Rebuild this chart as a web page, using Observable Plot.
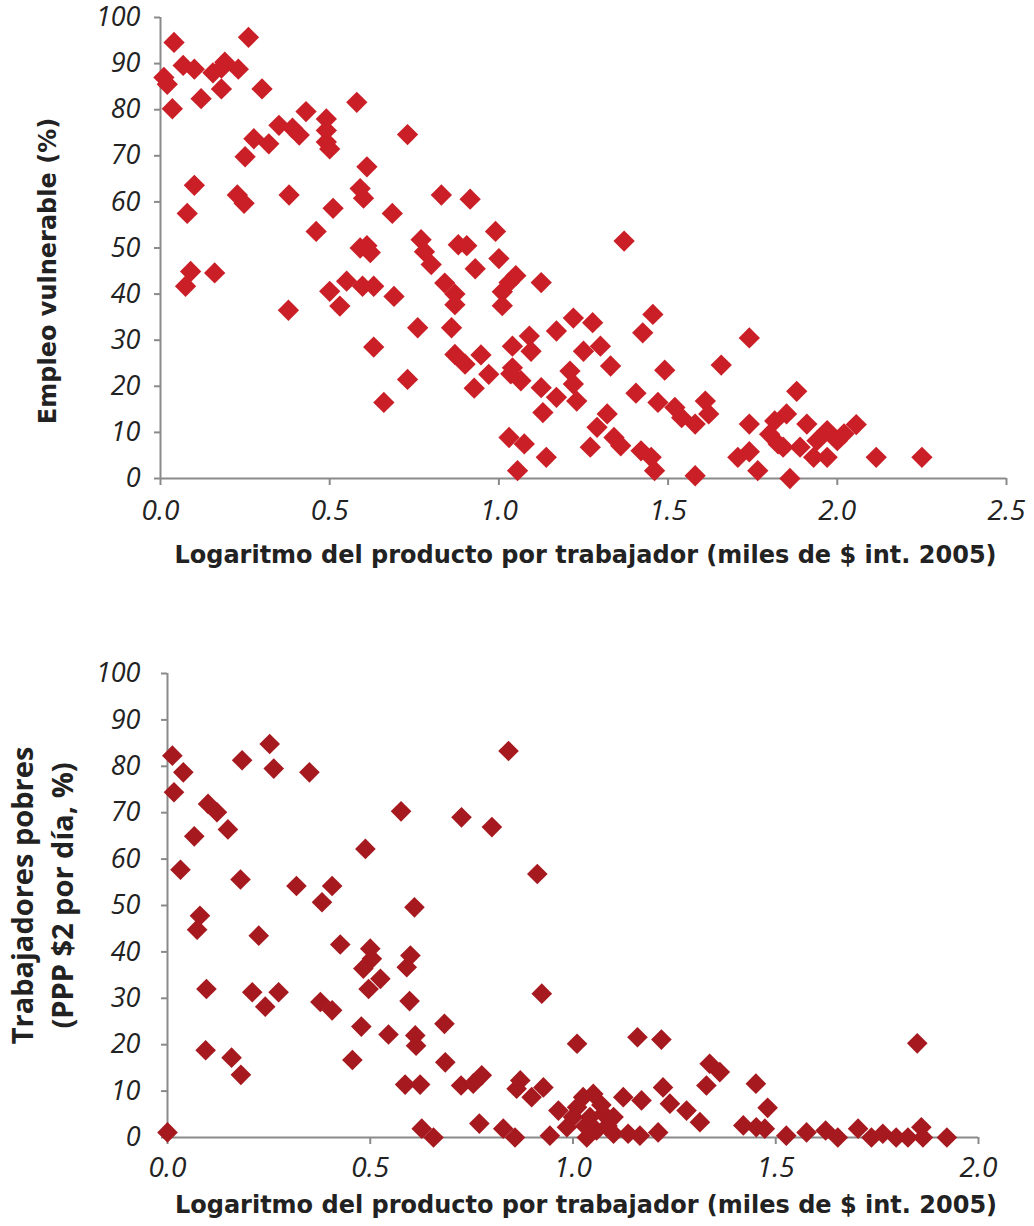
<!DOCTYPE html>
<html><head><meta charset="utf-8">
<script src="https://cdn.jsdelivr.net/npm/d3@7"></script>
<script src="https://cdn.jsdelivr.net/npm/@observablehq/plot@0.6"></script>
<style>
body{margin:0;background:#fff;}
#chart{width:1034px;height:1226px;}
#chart svg{display:block;overflow:visible;}
</style></head><body><div id="chart"></div>
<script>
// ---- Top panel: vulnerable employment vs log output per worker
const topX = [0.04,0.26,0.067,0.10,0.155,0.18,0.19,0.23,0.18,0.01,0.02,0.12,0.035,0.30,0.58,0.43,0.35,0.39,0.41,0.49,0.49,0.49,0.50,0.276,0.32,0.73,0.25,0.61,0.10,0.227,0.247,0.38,0.59,0.60,0.83,0.079,0.51,0.685,0.46,0.59,0.61,0.62,0.77,0.78,0.80,0.88,0.089,0.074,0.16,0.378,0.50,0.53,0.55,0.597,0.63,0.69,0.76,0.84,0.86,0.87,0.90,0.87,0.87,0.63,0.73,0.66,0.915,0.99,0.905,1.0,0.93,1.37,1.05,1.03,1.01,1.01,1.125,0.947,0.97,0.927,1.17,1.22,1.277,1.09,1.04,1.095,1.04,1.065,1.035,1.125,1.25,1.30,1.33,1.21,1.22,1.23,1.17,1.13,1.455,1.425,1.74,1.657,1.49,1.405,1.47,1.52,1.54,1.61,1.62,1.58,1.74,1.32,1.29,1.34,1.27,1.36,1.03,1.075,1.14,1.055,1.42,1.45,1.46,1.58,1.706,1.74,1.765,1.88,1.85,1.815,1.80,1.91,1.97,1.94,2.0,1.89,1.93,1.97,2.02,1.84,1.825,2.056,1.86,2.115,2.25];
const topY = [94.6,95.7,89.6,88.8,88.0,89.0,90.3,88.8,84.5,87.0,85.5,82.4,80.2,84.5,81.6,79.6,76.6,76.0,74.5,78.0,75.5,73.0,71.5,73.7,72.6,74.6,69.8,67.6,63.6,61.5,59.7,61.5,62.9,60.8,61.5,57.5,58.6,57.5,53.6,50.0,50.5,49.0,51.8,49.2,46.4,50.7,44.9,41.7,44.6,36.5,40.6,37.4,42.8,41.7,41.7,39.5,32.7,42.4,32.7,26.9,24.8,40.0,37.7,28.5,21.5,16.5,60.6,53.6,50.5,47.7,45.5,51.5,44.0,42.5,40.5,37.5,42.5,26.8,22.6,19.6,32.0,34.8,33.8,30.9,28.7,27.6,24.0,21.2,22.7,19.7,27.6,28.7,24.4,23.3,20.5,16.8,17.6,14.3,35.6,31.6,30.5,24.6,23.5,18.5,16.5,15.4,13.2,16.8,14.0,11.8,11.8,14.0,11.1,8.9,6.8,7.1,8.9,7.5,4.6,1.7,6.0,4.6,1.7,0.6,4.6,5.8,1.7,18.9,14.0,12.5,9.6,11.8,10.4,8.2,8.2,6.8,4.6,4.6,9.7,6.8,7.5,11.7,0,4.6,4.6];

// ---- Bottom panel: working poor vs log output per worker
const bottomX = [0.012,0.039,0.016,0.184,0.252,0.262,0.35,0.10,0.122,0.066,0.149,0.576,0.488,0.032,0.18,0.318,0.406,0.381,0.609,0.725,0.08,0.073,0.225,0.426,0.5,0.504,0.483,0.525,0.496,0.599,0.59,0.597,0.096,0.209,0.274,0.241,0.377,0.406,0.478,0.545,0.611,0.613,0.683,0.685,0.456,0.094,0.158,0.181,0.586,0.623,0.724,0,0.627,0.656,0.841,0.80,0.912,0.923,1.01,1.159,1.218,0.754,0.775,0.87,0.861,0.898,0.927,0.769,0.828,0.857,0.943,0.964,1.025,1.05,1.0,1.042,1.075,1.1,1.058,1.1,1.034,1.01,1.07,1.03,1.085,0.985,1.124,1.169,1.136,1.165,1.21,1.222,1.239,1.28,1.313,1.337,1.362,1.329,1.451,1.42,1.452,1.473,1.48,1.526,1.576,1.623,1.653,1.703,1.736,1.764,1.797,1.826,1.859,1.863,1.849,1.922];
const bottomY = [82.3,78.7,74.4,81.3,84.8,79.5,78.7,71.9,70.1,64.9,66.4,70.3,62.2,57.7,55.6,54.2,54.2,50.7,49.6,69.0,47.8,44.8,43.5,41.6,40.7,38.5,36.4,34.2,32.0,39.2,36.7,29.4,32.0,31.3,31.3,28.2,29.2,27.4,23.9,22.2,22.0,19.8,24.5,16.2,16.7,18.8,17.2,13.5,11.4,11.4,11.2,1.1,1.9,0,83.3,66.9,56.8,31.0,20.2,21.6,21.1,11.6,13.4,12.3,10.5,8.7,10.8,3.0,1.9,0,0.4,5.8,8.7,9.4,4.4,4.4,5.1,4.4,1.5,0.8,0,6.5,7.0,2.5,2.5,2.2,8.7,8.0,0.8,0.4,1.1,10.8,7.3,5.8,3.3,15.9,14.1,11.2,11.6,2.6,2.2,1.9,6.4,0.4,1.1,1.5,0,1.9,0,0.8,0,0,2.2,0,20.3,0];

const yTicks = [0,10,20,30,40,50,60,70,80,90,100];
const xTicksTop = [0,0.5,1,1.5,2,2.5];
const xTicksBottom = [0,0.5,1,1.5,2];
const xTitle = "Logaritmo del producto por trabajador (miles de $ int. 2005)";
const yTitleTop = "Empleo vulnerable (%)";
const yTitleBottom = "Trabajadores pobres\n(PPP $2 por día, %)";

const AXIS = "#8a8a8a";
const TEXT = "#222";
const TICKFONT = "Open Sans, sans-serif";

function panel(o) {
  const data = o.xs.map((x, i) => ({x, y: o.ys[i]}));
  return Plot.plot({
    width: 1034,
    height: o.height,
    marginTop: o.mt, marginBottom: o.mb, marginLeft: o.ml, marginRight: o.mr,
    style: {fontFamily: TICKFONT, color: TEXT, background: "#fff", overflow: "visible"},
    x: {domain: o.xDomain, axis: null},
    y: {domain: [0, 100], axis: null},
    marks: [
      Plot.ruleY([0], {stroke: AXIS, strokeWidth: 2}),
      Plot.ruleX([0], {stroke: AXIS, strokeWidth: 2}),
      Plot.axisX({ticks: o.xTicks, tickFormat: d3.format(".1f"), label: null, tickSize: 7, tickPadding: o.xPad,
        stroke: AXIS, strokeWidth: 2, fill: TEXT, fontSize: 28, fontStyle: "italic", fontFamily: TICKFONT}),
      Plot.axisY({ticks: yTicks, label: null, tickSize: 6, tickPadding: o.yPad,
        stroke: AXIS, strokeWidth: 2, fill: TEXT, fontSize: 27, fontStyle: "italic", fontFamily: TICKFONT}),
      Plot.dot(data, {x: "x", y: "y", symbol: "diamond2", r: o.r, fill: o.fill, stroke: "none"}),
      Plot.text([xTitle], {text: d => d, frameAnchor: "bottom", dx: o.xtDx, dy: o.xtDy, lineAnchor: "middle",
        textAnchor: "middle", fontSize: 24, fontWeight: "bold", fontFamily: "DejaVu Sans", fill: TEXT}),
      Plot.text([o.yTitle], {text: d => d, frameAnchor: "left", rotate: -90, dx: o.ytDx, dy: o.ytDy, lineAnchor: "middle",
        textAnchor: "middle", fontSize: o.ytSize, fontWeight: "bold", fontFamily: o.ytFont, lineHeight: 1.35, fill: TEXT})
    ]
  });
}

const chart = document.getElementById("chart");
chart.append(panel({
  xs: topX, ys: topY, xDomain: [0, 2.5], xTicks: xTicksTop,
  height: 600, mt: 17, mb: 122, ml: 160, mr: 28, xPad: 15, yPad: 14,
  r: 9.6, fill: "#cb1f27",
  xtDx: 2, xtDy: 77, yTitle: yTitleTop, ytDx: -115, ytDy: 23, ytSize: 24, ytFont: "DejaVu Sans"
}));
chart.append(panel({
  xs: bottomX, ys: bottomY, xDomain: [0, 2.0], xTicks: xTicksBottom,
  height: 626, mt: 73, mb: 89, ml: 167, mr: 56, xPad: 13, yPad: 21,
  r: 9.3, fill: "#a6191f",
  xtDx: 13, xtDy: 68, yTitle: yTitleBottom, ytDx: -127, ytDy: -10, ytSize: 29, ytFont: "Open Sans"
}));
</script></body></html>
